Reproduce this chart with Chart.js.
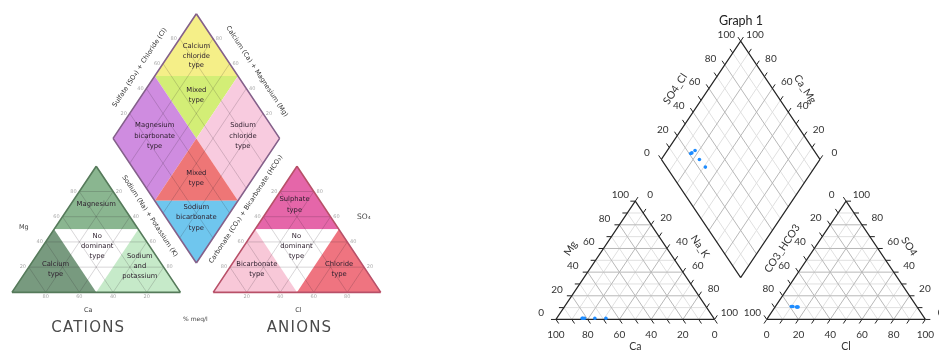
<!DOCTYPE html>
<html><head><meta charset="utf-8">
<script src="https://cdn.jsdelivr.net/npm/chart.js@4/dist/chart.umd.min.js"></script>
<style>html,body{margin:0;padding:0;background:#fff;overflow:hidden}#wrap{width:939px;height:356px}</style>
</head><body><div id="wrap"><canvas id="c" width="939" height="356"></canvas></div>
<script>
// ================= DATA =================
const sampleIds = ['S1', 'S2', 'S3', 'S4', 'S5'];
// cations (% meq/l)
const caPct   = [83, 82.5, 81.5, 75, 68];
const mgPct   = [1, 1, 1, 1, 1];
const naKPct  = [16, 16.5, 17.5, 24, 31];
// anions (% meq/l)
const hco3Pct = [79, 78, 75, 76, 75.5];
const so4Pct  = [11, 11, 10.5, 10.5, 10.5];
const clPct   = [10, 11, 14.5, 13.5, 14];

const tickLabelValues = [0, 20, 40, 60, 80, 100];
const tickMarkValues  = [0, 10, 20, 30, 40, 50, 60, 70, 80, 90, 100];
const gridValues      = [10, 20, 30, 40, 50, 60, 70, 80, 90];
const classGridValues = [20, 40, 60, 80];

const chartTitle = 'Graph 1';
const axisTitles = { dL: 'SO4_Cl', dR: 'Ca_Mg', cL: 'Mg', cR: 'Na_K', cB: 'Ca', aL: 'CO3_HCO3', aR: 'SO4', aB: 'Cl' };

// classification scheme (left figure)
const diamondTypes = [['Calcium','chloride','type'], ['Mixed','type'], ['Magnesium','bicarbonate','type'], ['Sodium','chloride','type'], ['Mixed','type'], ['Sodium','bicarbonate','type']];
const cationTypes  = [['Magnesium'], ['No','dominant','type'], ['Calcium','type'], ['Sodium','and','potassium']];
const anionTypes   = [['Sulphate','type'], ['No','dominant','type'], ['Bicarbonate','type'], ['Chloride','type']];

// ================= LAYOUT (frames) =================
const F = {
  catR: { x0: 556.7, y0: 322.7, w: 160, h: 121 },
  anR:  { x0: 769.3, y0: 322.7, w: 160, h: 121 },
  diaR: { bx: 743, by: 280, hw: 80, hh: 121 },
  catL: { x0: 8, y0: 295, w: 170, h: 129 },
  anL:  { x0: 211, y0: 295, w: 169, h: 129 },
  diaL: { bx: 194, by: 265, hw: 84, hh: 127.5 }
};
// ternary -> plane (left, top, right components in %)
function tri(fr, l, t, r) { return { x: fr.x0 + fr.w * (r + t / 2) / 100, y: fr.y0 - fr.h * t / 100 }; }
// diamond: s = SO4+Cl %, c = Ca+Mg %
function dia(fr, s, c) { return { x: fr.bx + fr.hw * (s - c) / 100, y: fr.by - fr.hh * (s + c) / 100 }; }
function add(p, dx, dy) { return { x: p.x + dx, y: p.y + dy }; }

// ================= DATASETS =================
const ds = [];
function poly(pts, color) {
  ds.push({ type: 'line', data: pts.concat([pts[0]]), fill: 'shape', backgroundColor: color,
            borderColor: 'rgba(0,0,0,0)', borderWidth: 0, pointRadius: 0, tension: 0 });
}
function segs(list, color, width) {
  const data = [];
  list.forEach(([a, b]) => { data.push(a, b, { x: null, y: null }); });
  ds.push({ type: 'line', data, fill: false, borderColor: color, borderWidth: width, pointRadius: 0, tension: 0, spanGaps: false });
}

// ---------- left figure: classification fills ----------
const cL = F.catL, aL = F.anL, dL = F.diaL;
const diaColors = ['#f5ef88', '#d3ee76', '#cf8ce0', '#f8cbdf', '#ee7676', '#6fc6ee'];
poly([dia(dL,100,100), dia(dL,50,100), dia(dL,100,50)], diaColors[0]);
poly([dia(dL,50,100), dia(dL,100,50), dia(dL,50,50)], diaColors[1]);
poly([dia(dL,0,100), dia(dL,50,100), dia(dL,50,50), dia(dL,0,50)], diaColors[2]);
poly([dia(dL,100,50), dia(dL,100,0), dia(dL,50,0), dia(dL,50,50)], diaColors[3]);
poly([dia(dL,50,50), dia(dL,0,50), dia(dL,50,0)], diaColors[4]);
poly([dia(dL,0,50), dia(dL,0,0), dia(dL,50,0)], diaColors[5]);

const catColors = ['#8ab690', '#ffffff', '#789a7f', '#c6eac9'];
poly([tri(cL,50,50,0), tri(cL,0,100,0), tri(cL,0,50,50)], catColors[0]);
poly([tri(cL,50,50,0), tri(cL,0,50,50), tri(cL,50,0,50)], catColors[1]);
poly([tri(cL,100,0,0), tri(cL,50,50,0), tri(cL,50,0,50)], catColors[2]);
poly([tri(cL,0,0,100), tri(cL,50,0,50), tri(cL,0,50,50)], catColors[3]);

const anColors = ['#e566a9', '#ffffff', '#f8c8d8', '#ef7480'];
poly([tri(aL,50,50,0), tri(aL,0,100,0), tri(aL,0,50,50)], anColors[0]);
poly([tri(aL,50,50,0), tri(aL,0,50,50), tri(aL,50,0,50)], anColors[1]);
poly([tri(aL,100,0,0), tri(aL,50,50,0), tri(aL,50,0,50)], anColors[2]);
poly([tri(aL,0,0,100), tri(aL,50,0,50), tri(aL,0,50,50)], anColors[3]);

// left figure grid
const lg = [];
classGridValues.forEach(k => {
  [cL, aL].forEach(fr => {
    lg.push([tri(fr,100-k,k,0), tri(fr,0,k,100-k)]);
    lg.push([tri(fr,100-k,0,k), tri(fr,0,100-k,k)]);
    lg.push([tri(fr,k,0,100-k), tri(fr,k,100-k,0)]);
  });
  lg.push([dia(dL,k,0), dia(dL,k,100)]);
  lg.push([dia(dL,0,k), dia(dL,100,k)]);
});
segs(lg, 'rgba(40,30,40,0.18)', 1);
// left figure outlines
segs([[tri(cL,100,0,0), tri(cL,0,100,0)], [tri(cL,0,100,0), tri(cL,0,0,100)], [tri(cL,0,0,100), tri(cL,100,0,0)]], '#557a5a', 1.6);
segs([[tri(aL,100,0,0), tri(aL,0,100,0)], [tri(aL,0,100,0), tri(aL,0,0,100)], [tri(aL,0,0,100), tri(aL,100,0,0)]], '#b85068', 1.6);
segs([[dia(dL,0,100), dia(dL,100,100)], [dia(dL,100,100), dia(dL,100,0)], [dia(dL,100,0), dia(dL,0,0)], [dia(dL,0,0), dia(dL,0,100)]], '#84608a', 1.6);

// ---------- right figure: Piper plot ----------
const cR = F.catR, aR = F.anR, dR = F.diaR;
const light = [], dark = [];
gridValues.forEach(k => {
  const tgt = (k % 20 === 0) ? dark : light;
  [cR, aR].forEach(fr => {
    tgt.push([tri(fr,100-k,k,0), tri(fr,0,k,100-k)]);
    tgt.push([tri(fr,100-k,0,k), tri(fr,0,100-k,k)]);
    tgt.push([tri(fr,k,0,100-k), tri(fr,k,100-k,0)]);
  });
  tgt.push([dia(dR,k,0), dia(dR,k,100)]);
  tgt.push([dia(dR,0,k), dia(dR,100,k)]);
});
segs(light, '#e0e0e0', 1);
segs(dark, '#b8b8b8', 1);

// tick marks (extensions of grid directions)
const tl = 5;
const u = (dx, dy) => { const n = Math.hypot(dx, dy); return [dx / n * tl, dy / n * tl]; };
const upR = u(cR.w / 2, -cR.h), upL = u(-cR.w / 2, -cR.h), dnR = u(cR.w / 2, cR.h), dnL = u(-cR.w / 2, cR.h);
const dUpL = u(-dR.hw, -dR.hh), dUpR = u(dR.hw, -dR.hh);
const ticks = [];
tickMarkValues.forEach(k => {
  let p;
  p = tri(cR,100-k,k,0); ticks.push([p, add(p,-tl,0)]);
  p = tri(cR,0,100-k,k); ticks.push([p, add(p,upR[0],upR[1])]);
  p = tri(cR,k,0,100-k); ticks.push([p, add(p,dnR[0],dnR[1])]);
  p = tri(aR,k,100-k,0); ticks.push([p, add(p,upL[0],upL[1])]);
  p = tri(aR,0,k,100-k); ticks.push([p, add(p,tl,0)]);
  p = tri(aR,100-k,0,k); ticks.push([p, add(p,dnL[0],dnL[1])]);
  p = dia(dR,k,100); ticks.push([p, add(p,dUpL[0],dUpL[1])]);
  p = dia(dR,100,k); ticks.push([p, add(p,dUpR[0],dUpR[1])]);
});
segs(ticks, '#222', 1);
// frames
segs([[tri(cR,100,0,0), tri(cR,0,100,0)], [tri(cR,0,100,0), tri(cR,0,0,100)], [tri(cR,0,0,100), tri(cR,100,0,0)],
      [tri(aR,100,0,0), tri(aR,0,100,0)], [tri(aR,0,100,0), tri(aR,0,0,100)], [tri(aR,0,0,100), tri(aR,100,0,0)],
      [dia(dR,0,100), dia(dR,100,100)], [dia(dR,100,100), dia(dR,100,0)], [dia(dR,100,0), dia(dR,0,0)], [dia(dR,0,0), dia(dR,0,100)]], '#262626', 1.2);

// samples
const samplePts = [];
sampleIds.forEach((id, i) => {
  samplePts.push(tri(cR, caPct[i], mgPct[i], naKPct[i]));
  samplePts.push(tri(aR, hco3Pct[i], so4Pct[i], clPct[i]));
  samplePts.push(dia(dR, so4Pct[i] + clPct[i], caPct[i] + mgPct[i]));
});
ds.push({ type: 'line', data: samplePts, showLine: false, pointRadius: 1.8, pointBackgroundColor: '#1e8cff', pointBorderWidth: 0, pointBorderColor: '#1e8cff' });

ds.forEach((d, i) => { d.order = ds.length - i; });

// ================= TEXT =================
const labels = [];
const RF = '"Lato", "Open Sans", sans-serif';
const HF = '"DejaVu Sans", sans-serif';
function L(text, p, o) { labels.push(Object.assign({ text, x: p.x, y: p.y, font: '10px ' + RF, color: '#333', rot: 0 }, o || {})); }

// right figure tick labels
tickLabelValues.forEach(k => {
  const t = String(k);
  L(t, add(tri(cR,100-k,k,0), -15, -6.5));
  L(t, add(tri(cR,0,100-k,k), 15, -7));
  L(t, add(tri(cR,k,0,100-k), 0, 15.5));
  L(t, add(tri(aR,k,100-k,0), -14.5, -6.7));
  L(t, add(tri(aR,0,k,100-k), 15.5, -6.7));
  L(t, add(tri(aR,100-k,0,k), 0, 15.5));
  L(t, add(dia(dR,k,100), -14.5, -6.5));
  L(t, add(dia(dR,100,k), 14.5, -6.5));
});
const ang = Math.atan2(dR.hh, dR.hw) * 180 / Math.PI;
L(chartTitle, { x: 743.3, y: 17.5 }, { font: '12.5px ' + RF, color: '#222' });
L(axisTitles.dL, { x: 677, y: 87 }, { rot: -ang, font: '10.5px ' + RF });
L(axisTitles.dR, { x: 808, y: 87 }, { rot: ang, font: '10.5px ' + RF });
L(axisTitles.cL, { x: 571.5, y: 250 }, { rot: -ang, font: '10.5px ' + RF });
L(axisTitles.cR, { x: 702, y: 248 }, { rot: ang, font: '10.5px ' + RF });
L(axisTitles.cB, { x: 636.7, y: 350.5 }, { font: '10.5px ' + RF });
L(axisTitles.aL, { x: 785, y: 250 }, { rot: -ang, font: '10.5px ' + RF });
L(axisTitles.aR, { x: 913, y: 248 }, { rot: ang, font: '10.5px ' + RF });
L(axisTitles.aB, { x: 849.3, y: 350.5 }, { font: '10.5px ' + RF });

// left figure region labels
function block(lines, cx, ys) { lines.forEach((t, i) => L(t, { x: cx, y: ys[i] }, { font: '6.8px ' + HF, color: '#2e202e' })); }
block(diamondTypes[0], 194, [43, 53, 63]);
block(diamondTypes[1], 194, [88, 98]);
block(diamondTypes[2], 152, [124, 135, 145]);
block(diamondTypes[3], 241, [124, 135, 145]);
block(diamondTypes[4], 194, [173, 183]);
block(diamondTypes[5], 194, [208, 218, 229]);
block(cationTypes[0], 93, [205]);
block(cationTypes[1], 94, [238, 248, 258]);
block(cationTypes[2], 52, [266, 276]);
block(cationTypes[3], 137, [258, 268, 278]);
block(anionTypes[0], 293, [200, 211]);
block(anionTypes[1], 295, [238, 248, 258]);
block(anionTypes[2], 255, [266, 276]);
block(anionTypes[3], 338, [266, 276]);

const angL = Math.atan2(dL.hh, dL.hw) * 180 / Math.PI;
L('Sulfate (SO\u2084) + Chloride (Cl)', { x: 137, y: 65 }, { rot: -angL, font: '6.6px ' + HF, color: '#333' });
L('Calcium (Ca) + Magnesium (Mg)', { x: 255, y: 69 }, { rot: angL, font: '6.6px ' + HF, color: '#333' });
L('Sodium (Na) + Potassium (K)', { x: 147, y: 217 }, { rot: angL, font: '6.6px ' + HF, color: '#333' });
L('Carbonate (CO\u2083) + Bicarbonate (HCO\u2083)', { x: 244, y: 210 }, { rot: -angL, font: '6.6px ' + HF, color: '#333' });
L('Mg', { x: 20, y: 228 }, { font: '6.5px ' + HF, color: '#444' });
L('SO\u2084', { x: 363, y: 218 }, { font: '7.5px ' + HF, color: '#444' });
L('Ca', { x: 85, y: 313 }, { font: '6.5px ' + HF, color: '#444' });
L('Cl', { x: 297, y: 313 }, { font: '6.5px ' + HF, color: '#444' });
L('% meq/l', { x: 193, y: 323 }, { font: '6px ' + HF, color: '#444' });
L('CATIONS', { x: 85, y: 332 }, { font: '15px ' + HF, color: '#4a4a4a', ls: '1.2px' });
L('ANIONS', { x: 298, y: 332 }, { font: '15px ' + HF, color: '#4a4a4a', ls: '1.2px' });
// faint scale numbers of the left figure
const gray = { font: '5px ' + HF, color: '#a8a8a8' };
classGridValues.forEach(k => {
  const t = String(k);
  L(t, add(tri(cL,k,0,100-k), 0, 4.5), gray);
  L(t, add(tri(aL,100-k,0,k), 0, 4.5), gray);
  L(t, add(tri(cL,100-k,k,0), -6, 0), gray);
  L(t, add(tri(cL,0,100-k,k), 6, 0), gray);
  L(t, add(tri(aL,k,100-k,0), -6, 0), gray);
  L(t, add(tri(aL,0,k,100-k), 6, 0), gray);
  L(t, add(dia(dL,k,100), -6, 0), gray);
  L(t, add(dia(dL,100,k), 6, 0), gray);
});

const labelPlugin = {
  id: 'textLabels',
  afterDatasetsDraw(chart) {
    const ctx = chart.ctx, xs = chart.scales.x, ys = chart.scales.y;
    labels.forEach(l => {
      ctx.save();
      ctx.translate(xs.getPixelForValue(l.x), ys.getPixelForValue(l.y));
      if (l.rot) ctx.rotate(l.rot * Math.PI / 180);
      ctx.font = l.font; ctx.fillStyle = l.color;
      ctx.textAlign = 'center'; ctx.textBaseline = 'middle';
      if (l.ls) ctx.letterSpacing = l.ls;
      ctx.fillText(l.text, 0, 0);
      ctx.restore();
    });
  }
};

new Chart(document.getElementById('c'), {
  type: 'line',
  data: { datasets: ds },
  options: {
    responsive: false, animation: false, devicePixelRatio: 1, events: [],
    layout: { padding: 0 },
    scales: {
      x: { type: 'linear', min: 0, max: 939, display: false },
      y: { type: 'linear', min: 0, max: 356, reverse: true, display: false }
    },
    plugins: { legend: { display: false }, tooltip: { enabled: false }, title: { display: false } }
  },
  plugins: [labelPlugin]
});
</script></body></html>
